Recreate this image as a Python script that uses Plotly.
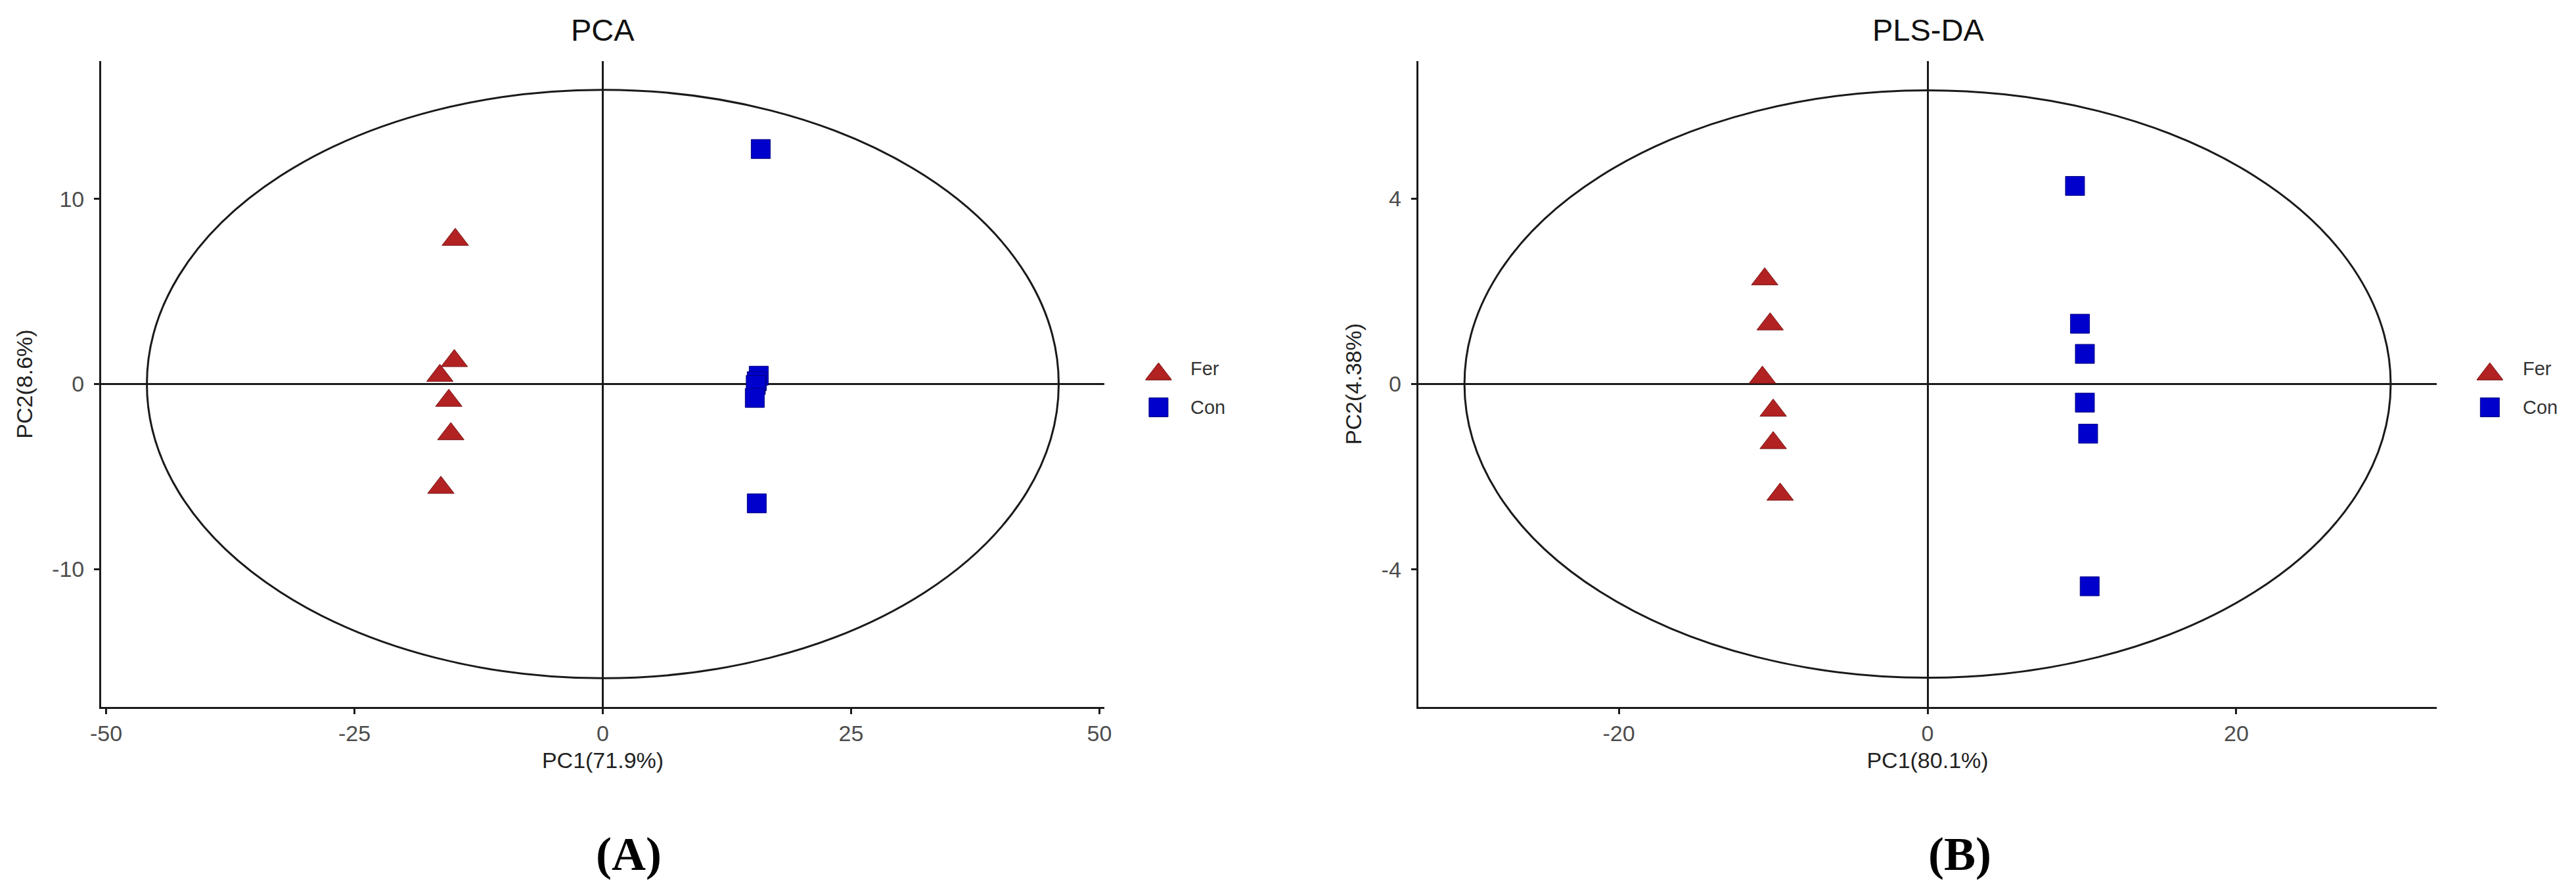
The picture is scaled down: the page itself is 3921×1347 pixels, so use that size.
import plotly.graph_objects as go

# PCA scores (panel A)
pca_fer_x = [-14.85, -14.95, -16.4, -15.5, -15.3, -16.3]
pca_fer_y = [7.8, 1.25, 0.45, -0.9, -2.7, -5.6]
pca_con_x = [15.9, 15.7, 15.5, 15.4, 15.3, 15.5]
pca_con_y = [12.7, 0.45, 0.15, -0.05, -0.75, -6.45]
pca_ellipse = [45.9, 15.9]   # semi-axes (PC1, PC2)

# PLS-DA scores (panel B)
pls_fer_x = [-10.55, -10.2, -10.7, -10.0, -10.0, -9.55]
pls_fer_y = [2.26, 1.29, 0.14, -0.57, -1.27, -2.38]
pls_con_x = [9.55, 9.87, 10.19, 10.19, 10.4, 10.5]
pls_con_y = [4.27, 1.30, 0.65, -0.40, -1.07, -4.36]
pls_ellipse = [30.0, 6.33]

pca_xticks = [-50, -25, 0, 25, 50]
pca_xtext = ["-50", "-25", "0", "25", "50"]
pca_yticks = [-10, 0, 10]
pca_ytext = ["-10", "0", "10"]
pls_xticks = [-20, 0, 20]
pls_xtext = ["-20", "0", "20"]
pls_yticks = [-4, 0, 4]
pls_ytext = ["-4", "0", "4"]

groups = ["Fer", "Con"]
legend_y = [0.67, 0.25]

W, H = 3921, 1347
FONT = "Liberation Sans, Arial, sans-serif"
LINE = "#1a1a1a"
FER_COL = "#B22222"
CON_COL = "#0000CD"

def px(v):
    return v / W

def py(v):
    return 1 - v / H

fig = go.Figure()

tri = dict(symbol="triangle-up", size=35, color=FER_COL, line=dict(color="#7a1717", width=1))
sq = dict(symbol="square", size=29, color=CON_COL, line=dict(color="#00007a", width=1))

fig.add_trace(go.Scatter(x=pca_fer_x, y=pca_fer_y, mode="markers", marker=tri, xaxis="x", yaxis="y", showlegend=False))
fig.add_trace(go.Scatter(x=pca_con_x, y=pca_con_y, mode="markers", marker=sq, xaxis="x", yaxis="y", showlegend=False))
fig.add_trace(go.Scatter(x=pls_fer_x, y=pls_fer_y, mode="markers", marker=tri, xaxis="x2", yaxis="y2", showlegend=False))
fig.add_trace(go.Scatter(x=pls_con_x, y=pls_con_y, mode="markers", marker=sq, xaxis="x2", yaxis="y2", showlegend=False))

# legend keys drawn on small hidden axes so they keep their full size
for xa, ya in [("x3", "y3"), ("x4", "y4")]:
    fig.add_trace(go.Scatter(x=[0.5], y=[legend_y[0]], mode="markers", marker=tri, xaxis=xa, yaxis=ya, showlegend=False))
    fig.add_trace(go.Scatter(x=[0.5], y=[legend_y[1]], mode="markers", marker=sq, xaxis=xa, yaxis=ya, showlegend=False))

def xax(domain, rng, ticks, text, title, anchor):
    return dict(domain=domain, range=rng, anchor=anchor, tickvals=ticks, ticktext=text,
                showgrid=False, zeroline=True, zerolinecolor=LINE, zerolinewidth=3,
                showline=True, linecolor=LINE, linewidth=3, mirror=False,
                ticks="outside", ticklen=8, tickwidth=3, tickcolor=LINE,
                tickfont=dict(family=FONT, size=34, color="#4d4d4d"),
                title=dict(text=title, font=dict(family=FONT, size=34, color="#222"), standoff=12))

def yax(domain, rng, ticks, text, title, anchor):
    d = xax(domain, rng, ticks, text, title, anchor)
    d["title"]["standoff"] = 20
    d["ticklabelstandoff"] = 8
    return d

hidden = dict(visible=False, range=[0, 1], fixedrange=True)

fig.update_layout(
    width=W, height=H,
    margin=dict(l=0, r=0, t=0, b=0),
    paper_bgcolor="white", plot_bgcolor="white",
    xaxis=xax([px(138), px(1676)], [-50.5, 50.5], pca_xticks, pca_xtext, "PC1(71.9%)", "y"),
    yaxis=yax([py(1076), py(93)], [-17.45, 17.45], pca_yticks, pca_ytext, "PC2(8.6%)", "x"),
    xaxis2=xax([px(2157), px(3719)], [-33, 33], pls_xticks, pls_xtext, "PC1(80.1%)", "y2"),
    yaxis2=yax([py(1076), py(93)], [-6.96, 6.96], pls_yticks, pls_ytext, "PC2(4.38%)", "x2"),
    xaxis3=dict(hidden, domain=[px(1739), px(1779)], anchor="y3"),
    yaxis3=dict(hidden, domain=[py(650), py(530)], anchor="x3"),
    xaxis4=dict(hidden, domain=[px(3780), px(3820)], anchor="y4"),
    yaxis4=dict(hidden, domain=[py(650), py(530)], anchor="x4"),
)

# confidence ellipses
for ref, (a, b) in [("", pca_ellipse), ("2", pls_ellipse)]:
    fig.add_shape(type="circle", xref="x" + ref, yref="y" + ref, x0=-a, x1=a, y0=-b, y1=b,
                  line=dict(color=LINE, width=3), layer="below")

# titles, panel labels, legend text
notes = [
    (px(907), py(46), "PCA", 47, FONT, "#111"),
    (px(2939), py(46), "PLS-DA", 47, FONT, "#111"),
    (px(947), py(1300), "<b>(A)</b>", 72, "Liberation Serif, Times New Roman, serif", "black"),
    (px(2987), py(1300), "<b>(B)</b>", 72, "Liberation Serif, Times New Roman, serif", "black"),
]
for x, y, t, s, f, c in notes:
    fig.add_annotation(x=x, y=y, xref="paper", yref="paper", text=t, showarrow=False,
                       font=dict(family=f, size=s, color=c), xanchor="center", yanchor="middle")

for lx in [1806, 3848]:
    for g, yy in zip(groups, [561, 620]):
        fig.add_annotation(x=px(lx), y=py(yy), xref="paper", yref="paper", text=g, showarrow=False,
                           font=dict(family=FONT, size=29, color="#333"), xanchor="left", yanchor="middle")

fig.write_html("out.html", config={"displayModeBar": False},
               post_script="document.body.style.margin='0';")
